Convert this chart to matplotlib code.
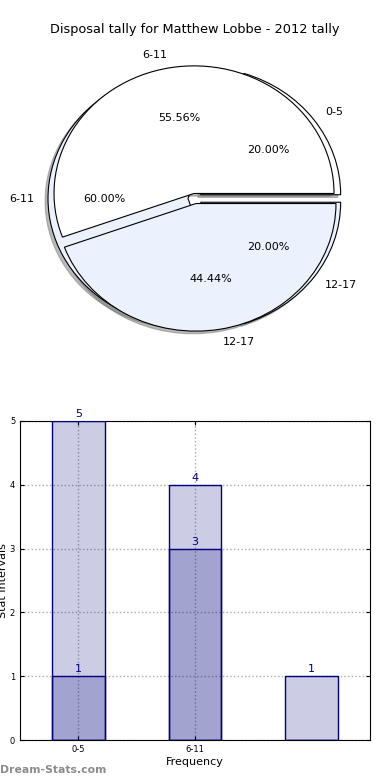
import matplotlib
matplotlib.use("Agg")
import matplotlib.pyplot as plt

# pie data
inner_labels = ["0-5", "6-11", "12-17"]
inner_values = [1, 3, 1]
outer_labels = ["6-11", "12-17"]
outer_values = [5, 4]

# bar data
bar_labels = ["0-5", "6-11", ""]
back_values = [5, 4, 1]
front_values = [1, 3, 0]

title = "Disposal tally for Matthew Lobbe - 2012 tally"
navy = "#000080"
light = "#EBF1FD"

fig = plt.figure(figsize=(3.9, 7.8), dpi=100)

# Pie chart
ax1 = fig.add_axes([20 / 390, 1 - 358 / 780, 350 / 390, 319 / 780])
shadow = dict(ox=-0.015, oy=-0.015, shade=0.45, color="#777777")
ax1.pie(inner_values, labels=inner_labels, colors=["white", light, light],
        autopct="%.2f%%", explode=[0.05] * 3, shadow=shadow,
        wedgeprops=dict(edgecolor="black", linewidth=0.8),
        textprops=dict(fontsize=8))
ax1.pie(outer_values, labels=outer_labels, colors=["white", light],
        autopct="%.2f%%", explode=[0.04] * 2, shadow=shadow,
        wedgeprops=dict(edgecolor="black", linewidth=0.8),
        textprops=dict(fontsize=8))
ax1.set_aspect("auto")
ax1.set_xlim(-1.25, 1.25)
ax1.set_ylim(-1.25, 1.25)
fig.text(0.5, 1 - 30 / 780, title, ha="center", va="center", fontsize=9.3)

# Bar chart
ax2 = fig.add_axes([20 / 390, 40 / 780, 350 / 390, 319 / 780])
x = list(range(len(back_values)))
ax2.bar(x, back_values, width=0.45, color=navy, alpha=0.2, zorder=2)
ax2.bar(x, back_values, width=0.45, facecolor="none", edgecolor=navy, linewidth=1, zorder=3)
ax2.bar(x, front_values, width=0.45, color=navy, alpha=0.2, zorder=2)
ax2.bar(x, front_values, width=0.45, facecolor="none", edgecolor=navy, linewidth=1, zorder=3)
for i in x:
    ax2.text(i, back_values[i] + 0.03, str(back_values[i]), ha="center", va="bottom",
             color=navy, fontsize=8)
    if front_values[i] > 0:
        ax2.text(i, front_values[i] + 0.03, str(front_values[i]), ha="center", va="bottom",
                 color=navy, fontsize=8)
ax2.set_xlim(-0.5, 2.5)
ax2.set_ylim(0, 5)
ax2.set_xticks([0, 1])
ax2.set_xticklabels(bar_labels[:2], fontsize=6)
ax2.set_yticks(range(6))
ax2.tick_params(axis="y", labelsize=6)
ax2.tick_params(direction="in", top=True, right=True, length=3)
ax2.grid(True, linestyle=":", color="#aaaaaa", linewidth=1, zorder=0)
ax2.set_xlabel("Frequency", fontsize=8, labelpad=2)
ax2.set_ylabel("Stat Intervals", fontsize=8, labelpad=1)

fig.text(0.0, 1 - 770 / 780, "Dream-Stats.com", ha="left", va="center",
         fontsize=7.8, color="#8c8c8c", fontweight="bold")

fig.savefig("out.png", dpi=100)
